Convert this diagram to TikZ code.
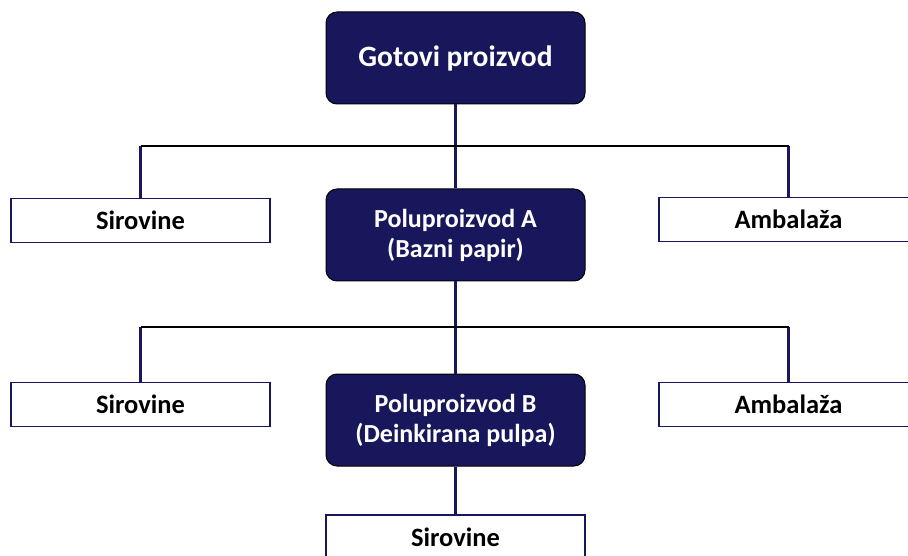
\documentclass[tikz,border=0pt]{standalone}
\usepackage{fontspec}
\setmainfont{Carlito}
\usetikzlibrary{positioning}
\definecolor{navy}{RGB}{25,23,91}
\begin{document}
\begin{tikzpicture}[x=1pt, y=-1pt,
      prod/.style={draw=black, line width=1pt, rounded corners=11pt, fill=navy, text=white, minimum width=259pt, minimum height=92pt, inner sep=0pt, align=center, font=\bfseries\fontsize{26}{30}\selectfont},
      item/.style={draw=navy, line width=1.5pt, fill=white, minimum width=259pt, minimum height=44pt, inner sep=0pt, font=\bfseries\fontsize{26.5}{30}\selectfont},
      vbar/.style={draw=navy, line width=3pt},
      hbar/.style={draw=black, line width=2pt}]
      \clip (0,0) rectangle (908,556);
      \node[prod, font=\bfseries\fontsize{29.5}{32}\selectfont] (gp) at (455.5,58) {Gotovi proizvod};
      \node[prod] (pa) at (455.5,235) {Poluproizvod A\\(Bazni papir)};
      \node[prod] (pb) at (455.5,420) {Poluproizvod B\\(Deinkirana pulpa)};
      \node[item] (s1) at (140.5,220.5) {Sirovine};
      \node[item] (a1) at (788.5,219.5) {Ambalaža};
      \node[item] (s2) at (140.5,404.5) {Sirovine};
      \node[item] (a2) at (788.5,404.5) {Ambalaža};
      \node[item] (s3) at (455.5,537) {Sirovine};
      \coordinate (j1) at (455.5,146);
      \coordinate (j2) at (455.5,327);
      \draw[vbar](gp)--(pa);\draw[vbar](pa)--(pb);\draw[vbar](pb)--(s3);
      \draw[vbar](s1.north)--(s1.north |- j1);\draw[vbar](a1.north)--(a1.north |- j1);
      \draw[vbar](s2.north)--(s2.north |- j2);\draw[vbar](a2.north)--(a2.north |- j2);
      \draw[hbar](s1.north |- j1)--(a1.north |- j1);
      \draw[hbar](s2.north |- j2)--(a2.north |- j2);
    \end{tikzpicture}
\end{document}
